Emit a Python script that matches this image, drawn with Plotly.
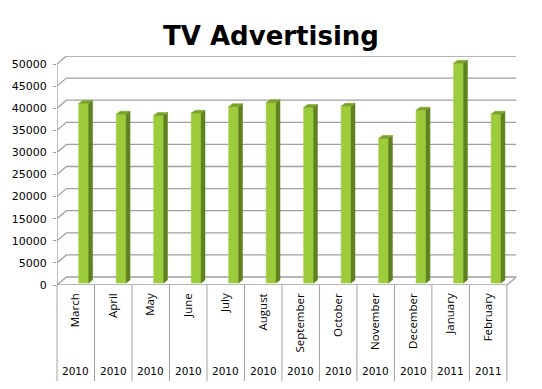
import plotly.graph_objects as go

months = ["March", "April", "May", "June", "July", "August", "September",
          "October", "November", "December", "January", "February"]
years = ["2010", "2010", "2010", "2010", "2010", "2010", "2010",
         "2010", "2010", "2010", "2011", "2011"]
values = [40600, 38200, 37900, 38400, 39900, 40800, 39700,
          40000, 32700, 39100, 49700, 38200]
yticks = list(range(0, 50001, 5000))

# geometry (layout only)
L, R, T, B = 52, 25, 56, 104
W, H = 542, 389
pw, ph = W - L - R, H - T - B
xr = [-0.5, 11.77]
yr = [0, 51810]
ux = pw / (xr[1] - xr[0])      # px per x unit
uy = ph / (yr[1] - yr[0])      # px per y unit
dxw, dyw = 9.5 / ux, 8 / uy    # wall depth offset
bx, by = 8 / ux, 2 / uy        # bar offset
bw = 10 / ux                   # bar width
sdx, sdy = 4 / ux, 3 / uy      # bar side depth

n = len(months)
xs = list(range(n))

fig = go.Figure()

# back wall gridlines + left diagonals
gx, gy = [], []
for v in yticks:
    gx += [xr[0], xr[0] + dxw, n - 0.5 + dxw, None]
    gy += [v, v + dyw, v + dyw, None]
# floor front edge and right diagonal
gx += [xr[0], n - 0.5, n - 0.5 + dxw, None]
gy += [0, 0, dyw, None]
# y axis line
gx += [xr[0], xr[0], None]
gy += [0, yticks[-1], None]
fig.add_trace(go.Scatter(x=gx, y=gy, mode="lines", line=dict(color="#A0A0A0", width=1.3),
                         hoverinfo="skip", showlegend=False, cliponaxis=False))

# bar faces (front, side, top), built from the values through the axes
fx, fy = [], []
sx, sy = [], []
tx, ty = [], []
for x, v in zip(xs, values):
    r = x + bx + bw / 2
    l = x + bx - bw / 2
    top = by + v
    fx += [l, r, r, l, l, None]
    fy += [by, by, top, top, by, None]
    sx += [r, r + sdx, r + sdx, r, r, None]
    sy += [by, by + sdy, top + sdy, top, by, None]
    tx += [l, r, r + sdx, l + sdx, l, None]
    ty += [top, top, top + sdy, top + sdy, top, None]
fig.add_trace(go.Scatter(x=fx, y=fy, mode="lines", fill="toself", fillcolor="#9CCB3B",
                         line=dict(color="#A6D147", width=0.6), hoverinfo="skip", showlegend=False))
fig.add_trace(go.Scatter(x=sx, y=sy, mode="lines", fill="toself", fillcolor="#5F8220",
                         line=dict(color="#5F8220", width=0.5), hoverinfo="skip", showlegend=False))
fig.add_trace(go.Scatter(x=tx, y=ty, mode="lines", fill="toself", fillcolor="#7BA22A",
                         line=dict(color="#7BA22A", width=0.5), hoverinfo="skip", showlegend=False))

# category dividers below axis
shapes = []
for k in range(n + 1):
    b = k - 0.5
    px = (b - xr[0]) / (xr[1] - xr[0])
    shapes.append(dict(type="line", xref="paper", yref="paper", x0=px, x1=px,
                       y0=0, y1=-96 / ph, line=dict(color="#A0A0A0", width=1)))

annotations = []
for x, yv in zip(xs, years):
    annotations.append(dict(x=x, xref="x", y=-86 / ph, yref="paper", text=yv,
                            showarrow=False, yanchor="middle",
                            font=dict(family="DejaVu Sans", size=10.5, color="#000000")))

fig.update_layout(
    width=W, height=H,
    margin=dict(l=L, r=R, t=T, b=B),
    paper_bgcolor="white", plot_bgcolor="white",
    title=dict(text="<b>TV Advertising</b>", x=0.5, xanchor="center",
               y=1 - 36 / H, yanchor="middle",
               font=dict(family="DejaVu Sans", size=26, color="#000000")),
    xaxis=dict(range=xr, tickvals=xs, ticktext=months, tickangle=-90,
               showgrid=False, zeroline=False, showline=False, ticks="",
               ticklabelstandoff=5,
               tickfont=dict(family="Open Sans", size=11.5, color="#000000")),
    yaxis=dict(range=yr, tickvals=yticks, ticktext=[str(v) for v in yticks],
               showgrid=False, zeroline=False, showline=False, ticks="outside",
               ticklen=3, tickcolor="#A0A0A0", ticklabelstandoff=4,
               tickfont=dict(family="DejaVu Sans", size=11, color="#000000")),
    shapes=shapes, annotations=annotations,
)

fig.write_html("out.html")
